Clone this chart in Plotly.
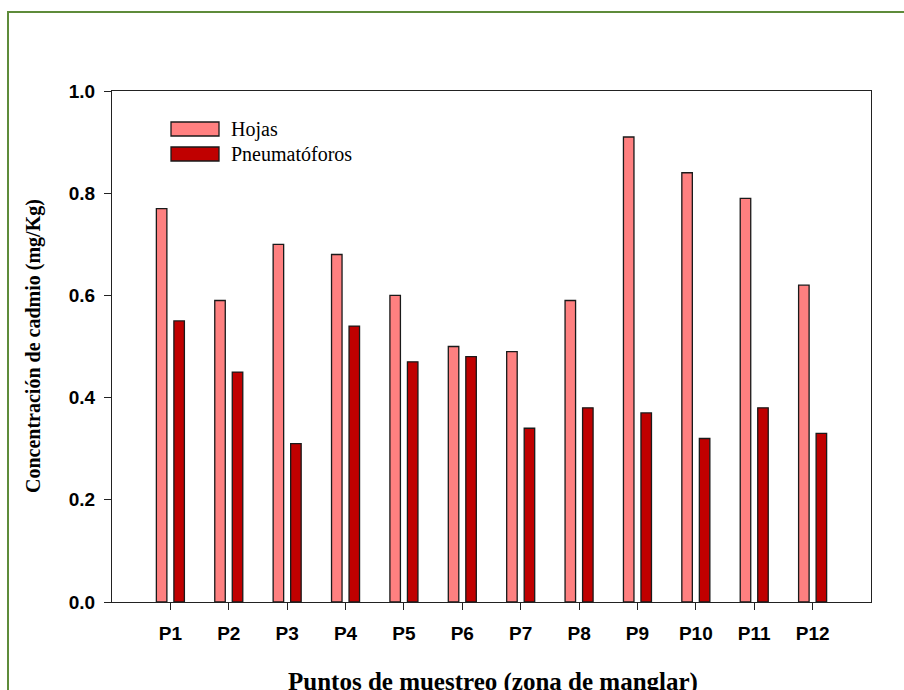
import plotly.graph_objects as go

categories = ["P1", "P2", "P3", "P4", "P5", "P6", "P7", "P8", "P9", "P10", "P11", "P12"]
hojas = [0.77, 0.59, 0.70, 0.68, 0.60, 0.50, 0.49, 0.59, 0.91, 0.84, 0.79, 0.62]
pneumatoforos = [0.55, 0.45, 0.31, 0.54, 0.47, 0.48, 0.34, 0.38, 0.37, 0.32, 0.38, 0.33]
y_ticks = [0.0, 0.2, 0.4, 0.6, 0.8, 1.0]
y_ticklabels = ["0.0", "0.2", "0.4", "0.6", "0.8", "1.0"]

c_hojas = "#FF8080"
c_pneu = "#C00000"
edge = "#1a1a1a"

fig = go.Figure()
fig.add_trace(go.Bar(x=categories, y=hojas, name="Hojas", width=0.18, offset=-0.24,
                     marker=dict(color=c_hojas, line=dict(color=edge, width=1.3))))
fig.add_trace(go.Bar(x=categories, y=pneumatoforos, name="Pneumatóforos", width=0.18, offset=0.06,
                     marker=dict(color=c_pneu, line=dict(color=edge, width=1.3))))

xtick_font = dict(family="Liberation Sans, Arial", size=19, color="black")
ytick_font = dict(family="Liberation Sans, Arial", size=19, color="black")
fig.update_layout(
    width=904, height=690,
    margin=dict(l=112, r=33, t=91, b=88),
    paper_bgcolor="white", plot_bgcolor="white",
    showlegend=False,
    barmode="overlay",
    xaxis=dict(type="category", range=[-1, 12], showgrid=False, zeroline=False,
               showline=True, linecolor="#222", linewidth=1.3, mirror=True,
               ticks="outside", ticklen=7, tickwidth=1.3, tickcolor="#222",
               tickfont=xtick_font, ticklabelstandoff=7,
               tickvals=categories, ticktext=["<b>%s</b>" % c for c in categories]),
    yaxis=dict(range=[0, 1.0], tickvals=y_ticks, ticktext=["<b>%s</b>" % t for t in y_ticklabels],
               showgrid=False, zeroline=False,
               showline=True, linecolor="#222", linewidth=1.3, mirror=True,
               ticks="outside", ticklen=7, tickwidth=1.3, tickcolor="#222",
               tickfont=ytick_font, ticklabelstandoff=5),
)

# green outer frame
fig.add_shape(type="rect", xref="paper", yref="paper",
              x0=(8 - 112) / 759, x1=(915 - 112) / 759,
              y0=(602 - 705) / 511, y1=(602 - 12) / 511,
              line=dict(color="#5E8B3A", width=2), fillcolor="rgba(0,0,0,0)", layer="below")

# legend
legend_items = [("Hojas", c_hojas), ("Pneumatóforos", c_pneu)]
for i, (name, col) in enumerate(legend_items):
    ytop = 122 + i * 25
    fig.add_shape(type="rect", xref="paper", yref="paper",
                  x0=(171 - 112) / 759, x1=(219 - 112) / 759,
                  y0=(602 - ytop - 14) / 511, y1=(602 - ytop) / 511,
                  line=dict(color=edge, width=1.3), fillcolor=col)
    fig.add_annotation(xref="paper", yref="paper", x=(229 - 112) / 759, y=(602 - ytop - 7) / 511,
                       text=name, showarrow=False, xanchor="left", yanchor="middle",
                       font=dict(family="Times New Roman, Liberation Serif, serif", size=20, color="black"))

fig.add_annotation(xref="paper", yref="paper", x=(493 - 112) / 759, y=(602 - 682) / 511,
                   text="<b>Puntos de muestreo (zona de manglar)</b>", showarrow=False,
                   xanchor="center", yanchor="middle",
                   font=dict(family="Times New Roman, Liberation Serif, serif", size=25, color="black"))
fig.add_annotation(xref="paper", yref="paper", x=(33 - 112) / 759, y=(602 - 346) / 511,
                   text="<b>Concentración de cadmio (mg/Kg)</b>", showarrow=False, textangle=-90,
                   xanchor="center", yanchor="middle",
                   font=dict(family="Times New Roman, Liberation Serif, serif", size=20, color="black"))

fig.write_html("out.html")
